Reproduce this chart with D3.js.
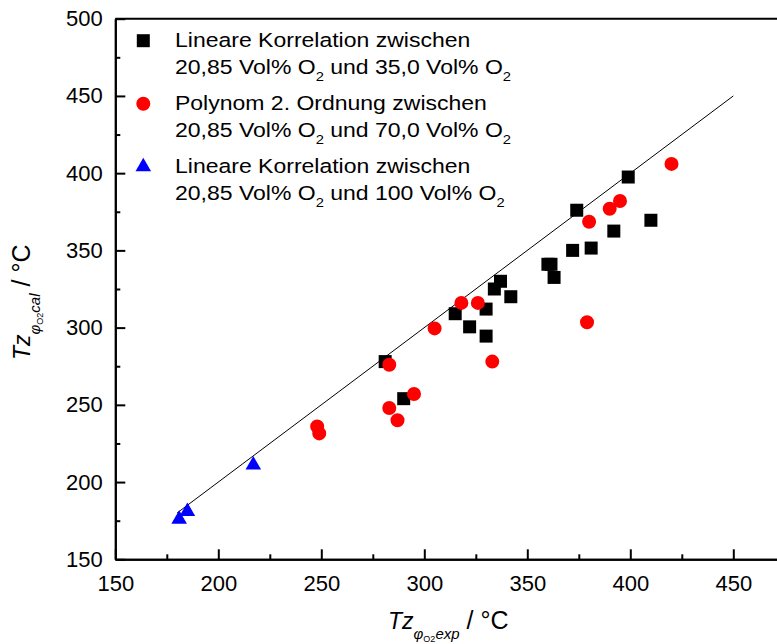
<!DOCTYPE html>
<html>
<head>
<meta charset="utf-8">
<script src="https://cdn.jsdelivr.net/npm/d3@7"></script>
<style>
  body { margin: 0; background: #fff; }
  text { font-family: Arial, 'Liberation Sans', sans-serif; }
</style>
</head>
<body>
<div id="chart"></div>
<script>
/* global d3 */

const WIDTH = 777
const HEIGHT = 644

// Lineare Korrelation 20,85 / 35,0 Vol% O2
const squareX = [281, 290, 315, 322, 330, 330, 334, 337, 342, 360, 361.5, 363, 372, 374, 381, 392, 399, 410]
const squareY = [278, 254, 309, 300.5, 312, 294.5, 325, 330, 320, 341, 341, 332.5, 350, 376, 351.5, 362.5, 397.5, 369.5]

// Polynom 2. Ordnung 20,85 / 70,0 Vol% O2
const circleX = [248, 249, 283, 283, 287, 295, 305, 318, 326, 333, 379, 380, 390, 395, 420]
const circleY = [236, 231.5, 276, 248, 240, 257, 299.5, 316, 316, 278, 303.5, 368.5, 377, 382, 406]

// Lineare Korrelation 20,85 / 100 Vol% O2
const triangleX = [181, 185, 217]
const triangleY = [176, 181, 211]

// diagonal y = x
const diagX = [180, 450]
const diagY = [180, 450]

const xTicks = [150, 200, 250, 300, 350, 400, 450]
const yTicks = [150, 200, 250, 300, 350, 400, 450, 500]

const legendLabels = [
  ['Lineare Korrelation zwischen', '35,0'],
  ['Polynom 2. Ordnung zwischen', '70,0'],
  ['Lineare Korrelation zwischen', '100']
]

const svg = d3.select('#chart')
  .append('svg')
  .attr('width', WIDTH)
  .attr('height', HEIGHT)

const x = d3.scaleLinear().domain([150, 475]).range([115.3, 784.8])
const y = d3.scaleLinear().domain([150, 500]).range([559.3, 18.7])

// minor ticks
svg.append('g')
  .attr('transform', `translate(0,${y(150)})`)
  .call(d3.axisBottom(x).tickValues(d3.range(175, 475, 50)).tickSize(-5).tickSizeOuter(0).tickFormat(''))
svg.append('g')
  .attr('transform', `translate(${x(150)},0)`)
  .call(d3.axisLeft(y).tickValues(d3.range(175, 500, 50)).tickSize(-5).tickSizeOuter(0).tickFormat(''))

// major ticks + labels
svg.append('g')
  .attr('transform', `translate(0,${y(150)})`)
  .call(d3.axisBottom(x).tickValues(xTicks).tickSize(-10).tickSizeOuter(0).tickPadding(16))
svg.append('g')
  .attr('transform', `translate(${x(150)},0)`)
  .call(d3.axisLeft(y).tickValues(yTicks).tickSize(-10).tickSizeOuter(0).tickPadding(12.5))

svg.selectAll('.domain').attr('stroke', '#000').attr('stroke-width', 2)
svg.selectAll('.tick line').attr('stroke', '#000').attr('stroke-width', 2)
svg.selectAll('.tick text')
  .attr('fill', '#000')
  .style('font-size', '22px')
  .style('font-family', 'Arial, \'Liberation Sans\', sans-serif')

// top frame line
svg.append('line')
  .attr('x1', x(150)).attr('x2', x(475))
  .attr('y1', y(500)).attr('y2', y(500))
  .attr('stroke', '#000')
  .attr('stroke-width', 2)

// diagonal
svg.append('line')
  .attr('x1', x(diagX[0])).attr('y1', y(diagY[0]))
  .attr('x2', x(diagX[1])).attr('y2', y(diagY[1]))
  .attr('stroke', '#000')
  .attr('stroke-width', 1)

const square = d3.symbol().type(d3.symbolSquare).size(169)
const circle = d3.symbol().type(d3.symbolCircle).size(154)
const triangle = d3.symbol().type(d3.symbolTriangle).size(105)

svg.append('g')
  .selectAll('path')
  .data(d3.zip(squareX, squareY))
  .join('path')
  .attr('d', square)
  .attr('transform', ([a, b]) => `translate(${x(a)},${y(b)})`)
  .attr('fill', '#000')

svg.append('g')
  .selectAll('path')
  .data(d3.zip(circleX, circleY))
  .join('path')
  .attr('d', circle)
  .attr('transform', ([a, b]) => `translate(${x(a)},${y(b)})`)
  .attr('fill', '#ff0000')

svg.append('g')
  .selectAll('path')
  .data(d3.zip(triangleX, triangleY))
  .join('path')
  .attr('d', triangle)
  .attr('transform', ([a, b]) => `translate(${x(a)},${y(b)})`)
  .attr('fill', '#0000ff')

// legend (text in the original is a bit wider than Arial, hence the scale)
const legendSymbols = [square, circle, triangle]
const legendColors = ['#000', '#ff0000', '#0000ff']
const legend = svg.append('g')
legendLabels.forEach(([first, pct], i) => {
  const base = 46.7 + i * 63
  legend.append('path')
    .attr('d', legendSymbols[i])
    .attr('transform', `translate(143.3,${base - 6})`)
    .attr('fill', legendColors[i])
  legend.append('text')
    .attr('transform', `translate(175,${base}) scale(1.18,1)`)
    .style('font-size', '19.5px')
    .text(first)
  const t = legend.append('text')
    .attr('transform', `translate(175,${base + 27.5}) scale(1.18,1)`)
    .style('font-size', '19.5px')
  t.append('tspan').text('20,85 Vol% O')
  t.append('tspan').attr('dy', 7).style('font-size', '12.5px').text('2')
  t.append('tspan').attr('dy', -7).text(` und ${pct} Vol% O`)
  t.append('tspan').attr('dy', 7).style('font-size', '12.5px').text('2')
})

// axis titles
function axisTitle(sel, sub) {
  sel.append('tspan').style('font-style', 'italic').text('Tz')
  sel.append('tspan').attr('dy', 10).style('font-size', '15px').style('font-style', 'italic').text('\u03c6')
  sel.append('tspan').attr('dy', 3).style('font-size', '9px').text('O2')
  sel.append('tspan').attr('dy', -3).style('font-size', '15px').style('font-style', 'italic').text(sub)
  sel.append('tspan').attr('dy', -10).style('font-size', '25px').text(' / \u00b0C')
}

svg.append('text')
  .attr('x', 388)
  .attr('y', 629.3)
  .style('font-size', '23px')
  .call(axisTitle, 'exp')

svg.append('text')
  .attr('transform', 'translate(29.5,360) rotate(-90)')
  .style('font-size', '23px')
  .call(axisTitle, 'cal')
</script>
</body>
</html>
